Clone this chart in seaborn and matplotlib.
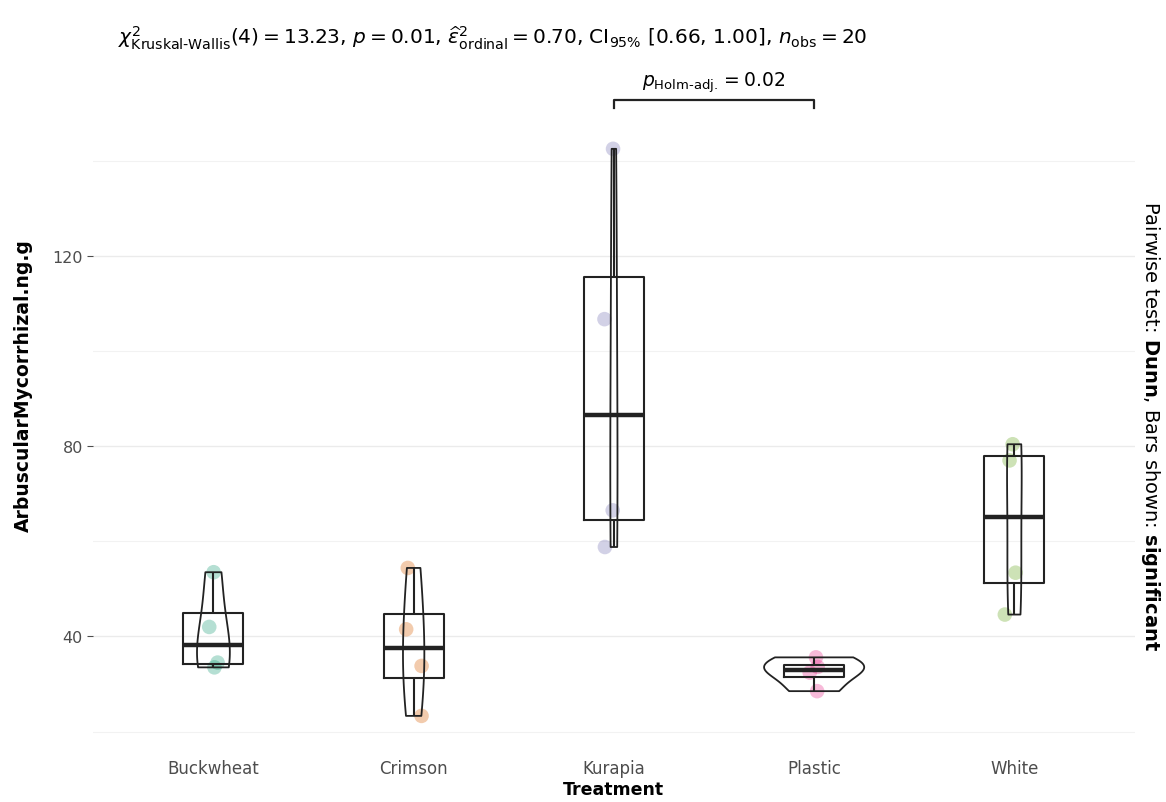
import numpy as np
import pandas as pd
import matplotlib
matplotlib.use('Agg')
import matplotlib.pyplot as plt
import seaborn as sns

treatments = ['Buckwheat', 'Crimson', 'Kurapia', 'Plastic', 'White']
buckwheat = [33.5, 34.5, 42.0, 53.5]
crimson = [23.3, 33.8, 41.5, 54.4]
kurapia = [58.8, 66.5, 106.7, 142.5]
plastic = [28.5, 32.4, 33.6, 35.6]
white = [44.6, 53.4, 77.0, 80.4]
palette = ['#1B9E77', '#D95F02', '#7570B3', '#E7298A', '#66A61E']

y_ticks = [40, 80, 120]
y_minor = [20, 60, 100, 140]

title = (r"$\chi^2_{\mathrm{Kruskal\text{-}Wallis}}(4) = 13.23$, $p = 0.01$, "
         r"$\widehat{\epsilon}^2_{\mathrm{ordinal}} = 0.70$, CI$_{95\%}$ [0.66, 1.00], "
         r"$n_{\mathrm{obs}} = 20$")
pair_label = r"$p_{\mathrm{Holm\text{-}adj.}} = 0.02$"
side_label = r"Pairwise test: $\bf{Dunn}$, Bars shown: $\bf{significant}$"


def main():
    values = [buckwheat, crimson, kurapia, plastic, white]
    df = pd.DataFrame({
        'Treatment': np.repeat(treatments, [len(v) for v in values]),
        'value': np.concatenate(values),
    })

    np.random.seed(3)
    fig, ax = plt.subplots(figsize=(11.66, 8.03), dpi=100)
    fig.subplots_adjust(left=0.080, right=0.973, top=0.923, bottom=0.064)

    for y in y_minor:
        ax.axhline(y, color='#F2F2F2', lw=0.8, zorder=0)
    ax.grid(True, color='#EBEBEB', lw=1.0, zorder=0)
    ax.set_axisbelow(True)

    sns.stripplot(data=df, x='Treatment', y='value', hue='Treatment', order=treatments,
                  palette=palette, jitter=0.05, size=10.5, alpha=0.32, linewidth=0,
                  legend=False, ax=ax, zorder=2)
    sns.violinplot(data=df, x='Treatment', y='value', order=treatments, fill=False,
                   color='#222222', inner=None, cut=0, width=0.5, density_norm='area',
                   linewidth=1.3, ax=ax, zorder=3)
    sns.boxplot(data=df, x='Treatment', y='value', order=treatments, fill=False,
                color='#222222', width=0.3, showfliers=False, showcaps=False,
                linewidth=1.5, medianprops=dict(linewidth=3.2), ax=ax, zorder=4)

    # significance bracket Kurapia vs Plastic
    ax.plot([2, 2, 3, 3], [151.0, 152.8, 152.8, 151.0], color='#222222', lw=1.6, zorder=5)
    ax.text(2.5, 154.0, pair_label, ha='center', va='bottom', fontsize=13.5)

    ax.set_xlim(-0.6, 4.6)
    ax.set_ylim(16, 161)
    ax.set_yticks(y_ticks)
    for s in ax.spines.values():
        s.set_visible(False)
    ax.tick_params(axis='y', colors='#4D4D4D', labelsize=11.5, length=4, width=0.8)
    ax.tick_params(axis='x', colors='#4D4D4D', labelsize=12, length=0, pad=6)
    ax.set_xlabel('Treatment', fontsize=12.5, fontweight='bold', labelpad=2)
    ax.set_ylabel('ArbuscularMycorrhizal.ng.g', fontsize=13.5, fontweight='bold')
    ax.yaxis.set_label_coords(-0.058, 0.53)

    fig.text(0.101, 0.952, title, ha='left', va='center', fontsize=14.5)
    fig.text(0.987, 0.47, side_label, rotation=270, ha='center', va='center', fontsize=14)

    fig.savefig('out.png', dpi=100, facecolor='white')


if __name__ == '__main__':
    main()
